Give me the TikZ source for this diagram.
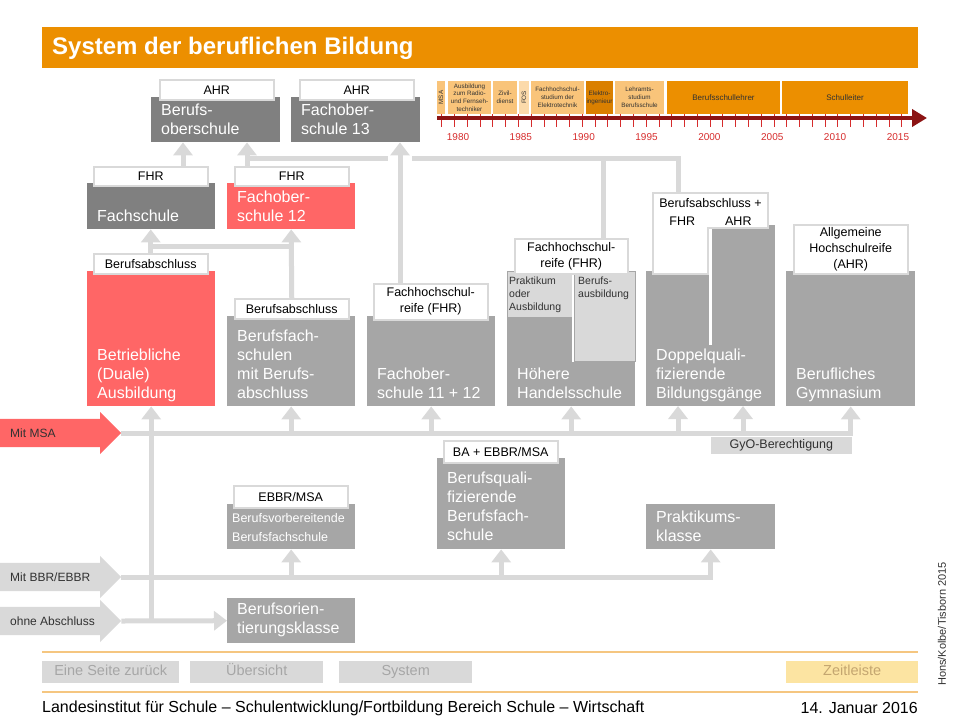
\documentclass[tikz,border=0pt]{standalone}
\usepackage{fontspec}
\setmainfont{Liberation Sans}
\usetikzlibrary{arrows.meta,shapes.arrows}

\definecolor{titelorange}{RGB}{236,143,0}
\definecolor{hellorange}{RGB}{249,196,122}
\definecolor{blassorange}{RGB}{252,218,170}
\definecolor{dunkelorange}{RGB}{218,128,0}
\definecolor{dunkelgrau}{RGB}{128,128,128}
\definecolor{mittelgrau}{RGB}{166,166,166}
\definecolor{hellgrau}{RGB}{217,217,217}
\definecolor{rosa}{RGB}{255,102,102}
\definecolor{achsrot}{RGB}{140,20,20}
\definecolor{jahrrot}{RGB}{214,44,44}
\definecolor{randorange}{RGB}{245,198,128}
\definecolor{zeitgelb}{RGB}{252,228,162}
\definecolor{knopfbraun}{RGB}{196,166,112}
\definecolor{schrift}{RGB}{50,50,50}

\begin{document}
\begin{tikzpicture}[x=1pt, y=-1pt, inner sep=0pt,
			kasten/.style 2 args={fill=#1, anchor=north west, minimum width=128pt, minimum height=#2},
			kastentext/.style={anchor=south west, xshift=10pt, yshift=2.3pt, text=white, align=left,
				font=\fontsize{16}{19}\selectfont, execute at end node=\strut},
			marke/.style={fill=white, draw=hellgrau, line width=1.5pt, anchor=north west,
				minimum width=114pt, minimum height=#1, align=center, font=\fontsize{12.5}{16}\selectfont},
			leitung/.style={draw=hellgrau, line width=5pt},
			pfeil/.style={leitung, -{Triangle[width=19pt,length=13pt]}},
			einstieg/.style={single arrow, fill=#1, anchor=tail, minimum height=121pt, inner xsep=0pt,
				inner ysep=14pt, minimum width=42pt, single arrow head extend=7pt},
			einstiegtext/.style={anchor=west, xshift=10pt, text=schrift, font=\fontsize{12}{14}\selectfont},
			zeit/.style 2 args={fill=#1, minimum width=#2, minimum height=33pt, align=center,
				text=schrift, font=\fontsize{6.3}{7.8}\selectfont},
			knopf/.style 2 args={fill=#1, anchor=north west, minimum width=#2, minimum height=22pt,
				text height=10.5pt, text depth=3pt, font=\fontsize{14.5}{16}\selectfont}]
	\useasboundingbox (0,0) rectangle (960,720);

	\node[fill=titelorange, anchor=north west, minimum width=876pt, minimum height=41pt] (balken) at (42,27) {};
	\node[anchor=west, text=white, font=\bfseries\fontsize{24}{28}\selectfont] (titel) at (52,48) {System der beruflichen Bildung};

	\node[zeit={hellorange}{33pt}, minimum height=8pt, rotate=90] (z-msa) at (441,97.5) {MSA};
	\node[zeit={hellorange}{43pt}] (z-radio) at (469.5,97.5) {Ausbildung\\zum Radio-\\und Fernseh-\\techniker};
	\node[zeit={hellorange}{24pt}] (z-zivi) at (505,97.5) {Zivil-\\dienst};
	\node[zeit={blassorange}{33pt}, minimum height=10pt, rotate=90] (z-fos) at (524,97.5) {FOS};
	\node[zeit={hellorange}{53pt}] (z-studium) at (557.5,97.5) {Fachhochschul-\\studium der\\Elektrotechnik};
	\node[zeit={dunkelorange}{27pt}] (z-ing) at (599.5,97.5) {Elektro-\\ingenieur};
	\node[zeit={hellorange}{49pt}] (z-lehramt) at (639.5,97.5) {Lehramts-\\studium\\Berufsschule};
	\node[zeit={titelorange}{113pt}, font=\fontsize{8}{9}\selectfont] (z-lehrer) at (723.5,97.5) {Berufsschullehrer};
	\node[zeit={titelorange}{126pt}, font=\fontsize{8}{9}\selectfont] (z-leiter) at (845,97.5) {Schulleiter};
	\foreach \j in {0,...,36}
		\draw[jahrrot, line width=0.8pt] ({441.7+12.78*\j},114) -- ++(0,13);
	\draw[achsrot, line width=4pt, -{Triangle[width=17pt,length=15pt]}] (437,118) -- (927,118);
	\foreach \j in {1980,1985,...,2015}
		\node[text=jahrrot, font=\fontsize{10}{12}\selectfont] (jahr\j) at ({458+12.57*(\j-1980)},137) {\j};

	\node[einstieg=rosa] (msa) at (0,433) {};
	\node[einstieg=hellgrau] (bbr) at (0,577) {};
	\node[einstieg=hellgrau] (ohne) at (0,621) {};
	\node[einstiegtext] (msa-t) at (msa.tail) {Mit MSA};
	\node[einstiegtext] (bbr-t) at (bbr.tail) {Mit BBR/EBBR};
	\node[einstiegtext] (ohne-t) at (ohne.tail) {ohne Abschluss};

	\node[kasten={dunkelgrau}{45pt}, minimum width=129pt] (bos) at (151,97) {};
	\node[kasten={dunkelgrau}{45pt}, minimum width=129pt] (fos13) at (291,97) {};
	\node[kasten={dunkelgrau}{46pt}] (fs) at (87,183) {};
	\node[kasten={rosa}{46pt}] (fos12) at (227,183) {};
	\node[kasten={rosa}{135pt}] (dual) at (87,271) {};
	\node[kasten={mittelgrau}{90pt}] (bfs) at (227,316) {};
	\node[kasten={mittelgrau}{90pt}] (fos1112) at (367,316) {};
	\node[kasten={mittelgrau}{135pt}] (hhs) at (507,271) {};
	\node[kasten={mittelgrau}{135pt}, minimum width=129pt] (dq) at (646,271) {};
	\node[kasten={mittelgrau}{46pt}, minimum width=63pt] (dq-saeule) at (712,225) {};
	\node[kasten={mittelgrau}{135pt}, minimum width=129pt] (bg) at (786,271) {};
	\node[kasten={mittelgrau}{91pt}] (bqb) at (437,458) {};
	\node[kasten={mittelgrau}{45pt}] (bvb) at (227,504) {};
	\node[kasten={mittelgrau}{45pt}, minimum width=129pt] (pk) at (646,504) {};
	\node[kasten={mittelgrau}{45pt}] (bok) at (227,598) {};

	\node[kasten={hellgrau}{46pt}, minimum width=65pt, draw=mittelgrau, line width=0.6pt] (praktikum) at (507,271) {};
	\node[kasten={hellgrau}{90pt}, minimum width=61pt, draw=mittelgrau, line width=0.6pt] (ausbildung) at (574,271) {};
	\draw[white, line width=2pt] ([xshift=-1pt]ausbildung.north west) -- ([xshift=-1pt]ausbildung.south west);
	\draw[white, line width=3pt] (710.5,228) -- (710.5,345);

	\node[marke=20pt] (bos-m) at (159,79) {AHR};
	\node[marke=20pt] (fos13-m) at (299,79) {AHR};
	\node[marke=19pt] (fs-m) at (93,166) {FHR};
	\node[marke=19pt] (fos12-m) at (234,166) {FHR};
	\node[marke=20pt] (dual-m) at (93,253) {Berufsabschluss};
	\node[marke=20pt] (bfs-m) at (234,298) {Berufsabschluss};
	\node[marke=36pt] (fos1112-m) at (373,283) {Fachhochschul-\\reife (FHR)};
	\node[marke=35pt, minimum width=113pt] (hhs-m) at (514,238) {Fachhochschul-\\reife (FHR)};
	\node[marke=49pt] (bg-m) at (793,224) {Allgemeine\\Hochschulreife\\(AHR)};
	\node[marke=22pt] (bvb-m) at (233,485) {EBBR/MSA};
	\node[marke=22pt] (bqb-m) at (443,440) {BA + EBBR/MSA};
	\filldraw[fill=white, draw=hellgrau, line width=1.5pt] (653,193) -- (768,193) -- (768,228) -- (708,228) -- (708,274) -- (653,274) -- cycle;
	\node[font=\fontsize{12.5}{18.5}\selectfont, align=center] (dq-m) at (710.5,212) {Berufsabschluss +\\FHR\hspace{30pt}AHR};

	\node[kastentext] (bos-t) at (bos.south west) {Berufs-\\oberschule};
	\node[kastentext] (fos13-t) at (fos13.south west) {Fachober-\\schule 13};
	\node[kastentext] (fs-t) at (fs.south west) {Fachschule};
	\node[kastentext] (fos12-t) at (fos12.south west) {Fachober-\\schule 12};
	\node[kastentext] (dual-t) at (dual.south west) {Betriebliche\\(Duale)\\Ausbildung};
	\node[kastentext] (bfs-t) at (bfs.south west) {Berufsfach-\\schulen\\mit Berufs-\\abschluss};
	\node[kastentext] (fos1112-t) at (fos1112.south west) {Fachober-\\schule 11 + 12};
	\node[kastentext] (hhs-t) at (hhs.south west) {Höhere\\Handelsschule};
	\node[kastentext] (dq-t) at (dq.south west) {Doppelquali-\\fizierende\\Bildungsgänge};
	\node[kastentext] (bg-t) at (bg.south west) {Berufliches\\Gymnasium};
	\node[kastentext, yshift=1pt] (bqb-t) at (bqb.south west) {Berufsquali-\\fizierende\\Berufsfach-\\schule};
	\node[kastentext, xshift=-5pt, yshift=-0.7pt, font=\fontsize{12.5}{19}\selectfont] (bvb-t) at (bvb.south west) {Berufsvorbereitende\\Berufsfachschule};
	\node[kastentext, yshift=-0.7pt] (pk-t) at (pk.south west) {Praktikums-\\klasse};
	\node[kastentext, yshift=1.5pt] (bok-t) at (bok.south west) {Berufsorien-\\tierungsklasse};
	\node[anchor=north west, align=left, text=schrift, font=\fontsize{10.5}{13}\selectfont] (praktikum-t) at (509,277) {Praktikum\\oder\\Ausbildung};
	\node[anchor=north west, align=left, text=schrift, font=\fontsize{10.5}{13}\selectfont] (ausbildung-t) at (578,277) {Berufs-\\ausbildung};

	\coordinate (auf1) at (183,166);
	\coordinate (auf2) at (247,166);
	\coordinate (auf3) at (400,283);
	\coordinate (quer) at (0,158);
	\coordinate (quer-dual) at (0,246);
	\coordinate (luecke-l) at (388,158);
	\coordinate (luecke-r) at (412,158);
	\coordinate (ab-hhs) at (603,238);
	\coordinate (ab-dq) at (678,193);
	\coordinate (dq-li) at (678,406);
	\coordinate (dq-re) at (743,406);

	\draw[pfeil] (auf1) -- (auf1 |- bos.south);
	\draw[pfeil] (auf2) -- (auf2 |- bos.south);
	\draw[pfeil] (auf3) -- (auf3 |- fos13.south);
	\draw[leitung] (auf2 |- quer) -- (luecke-l);
	\draw[leitung] (luecke-r) -| (ab-dq);
	\draw[leitung] (ab-hhs |- quer) -- (ab-hhs);
	\draw[pfeil] (dual-m.north) -- (dual-m.north |- fs.south);
	\draw[leitung] (dual-m.north |- quer-dual) -- (bfs-m.north |- quer-dual);
	\draw[pfeil] (bfs-m.north) -- (fos12.south);

	\draw[pfeil] (msa.tip) -| (bg.south);
	\foreach \z in {bfs,fos1112,hhs}
		\draw[pfeil] (\z.south |- msa.tip) -- (\z.south);
	\draw[pfeil] (dq-li |- msa.tip) -- (dq-li);
	\draw[pfeil] (dq-re |- msa.tip) -- (dq-re);
	\node[fill=hellgrau, anchor=north east, minimum width=141pt, minimum height=17pt, text=schrift,
		font=\fontsize{12.5}{14}\selectfont] (gyo) at (852,437) {GyO-Berechtigung};

	\draw[pfeil] (bbr.tip) -| (pk.south);
	\draw[pfeil] (bvb.south |- bbr.tip) -- (bvb.south);
	\draw[pfeil] (bqb.south |- bbr.tip) -- (bqb.south);
	\draw[pfeil] (ohne.tip) -- (bok.west);
	\draw[pfeil] (dual.south |- ohne.tip) -- (dual.south);

	\draw[randorange, line width=1.5pt] (42,652) -- (918,652);
	\draw[randorange, line width=1.5pt] (42,692) -- (918,692);
	\node[knopf={hellgrau}{137pt}, text=mittelgrau] (zurueck) at (42,661) {Eine Seite zurück};
	\node[knopf={hellgrau}{133pt}, text=mittelgrau] (uebersicht) at (190,661) {Übersicht};
	\node[knopf={hellgrau}{133pt}, text=mittelgrau] (system) at (339,661) {System};
	\node[knopf={zeitgelb}{132pt}, text=knopfbraun] (zeitleiste) at (786,661) {Zeitleiste};
	\node[anchor=west, font=\fontsize{16}{18}\selectfont] (fuss) at (42,708) {Landesinstitut für Schule – Schulentwicklung/Fortbildung Bereich Schule – Wirtschaft};
	\node[anchor=east, font=\fontsize{16}{18}\selectfont] (datum) at (918,708) {14. Januar 2016};
	\node[rotate=90, text=schrift, font=\fontsize{11}{13}\selectfont] (autoren) at (942,624) {Hons/Kolbe/Tisborn 2015};
\end{tikzpicture}
\end{document}
